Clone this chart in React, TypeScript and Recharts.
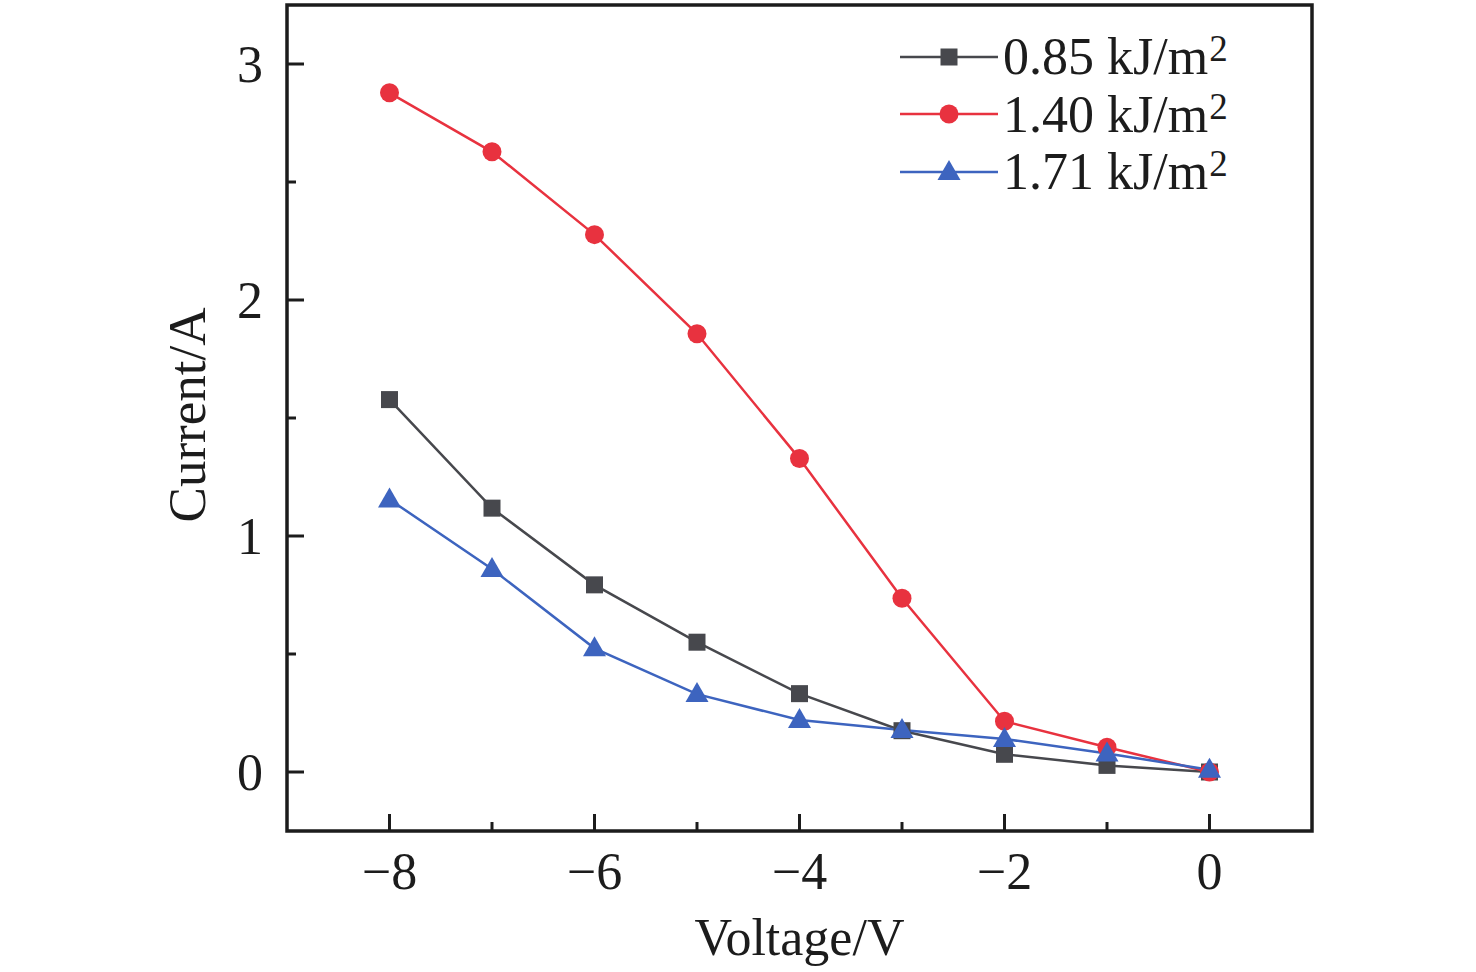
import { LineChart, Line, XAxis, YAxis, ReferenceArea, Legend } from "recharts";

const voltage    = [-8, -7, -6, -5, -4, -3, -2, -1, 0];
const current085 = [1.578, 1.118, 0.793, 0.55, 0.332, 0.175, 0.075, 0.028, 0];
const current140 = [2.878, 2.628, 2.277, 1.857, 1.328, 0.736, 0.215, 0.105, 0];
const current171 = [1.155, 0.86, 0.524, 0.33, 0.22, 0.178, 0.14, 0.078, 0.01];

const xTicks      = [-8, -7, -6, -5, -4, -3, -2, -1, 0];
const xLabelTicks = [-8, -6, -4, -2, 0];
const yTicks      = [0, 0.5, 1, 1.5, 2, 2.5, 3];
const yLabelTicks = [0, 1, 2, 3];

const series = [
  { key: "s085", label: "0.85 kJ/m", color: "#47484d", marker: "square" },
  { key: "s140", label: "1.40 kJ/m", color: "#e8323f", marker: "circle" },
  { key: "s171", label: "1.71 kJ/m", color: "#3d64bf", marker: "triangle" },
];

const data = voltage.map((v, i) => ({
  v,
  s085: current085[i],
  s140: current140[i],
  s171: current171[i],
}));

const FONT = "'Liberation Serif', 'Times New Roman', serif";
const INK = "#1c1c1c";

function Marker({ kind, cx, cy, color }: { kind: string; cx: number; cy: number; color: string }) {
  if (kind === "square") {
    return <rect x={cx - 8.5} y={cy - 8.5} width={17} height={17} fill={color} />;
  }
  if (kind === "circle") {
    return <circle cx={cx} cy={cy} r={9.5} fill={color} />;
  }
  return (
    <polygon
      points={`${cx},${cy - 12} ${cx - 11.5},${cy + 8} ${cx + 11.5},${cy + 8}`}
      fill={color}
    />
  );
}

function fmtTick(v: number) {
  return v < 0 ? `\u2212${Math.abs(v)}` : `${v}`;
}

// eslint-disable-next-line @typescript-eslint/no-explicit-any
function XTick({ x, y, payload }: any) {
  const major = xLabelTicks.includes(payload.value);
  return (
    <g>
      <line x1={x} y1={y} x2={x} y2={y - (major ? 17 : 9)} stroke={INK} strokeWidth={3} />
      {major && (
        <text x={x} y={y + 58} textAnchor="middle" fontFamily={FONT} fontSize={52} fill={INK}>
          {fmtTick(payload.value)}
        </text>
      )}
    </g>
  );
}

// eslint-disable-next-line @typescript-eslint/no-explicit-any
function YTick({ x, y, payload }: any) {
  const major = yLabelTicks.includes(payload.value);
  return (
    <g>
      <line x1={x} y1={y} x2={x + (major ? 17 : 9)} y2={y} stroke={INK} strokeWidth={3} />
      {major && (
        <text x={x - 24} y={y + 18} textAnchor="end" fontFamily={FONT} fontSize={52} fill={INK}>
          {fmtTick(payload.value)}
        </text>
      )}
    </g>
  );
}

function LegendBox() {
  return (
    <div style={{ fontFamily: FONT, fontSize: 52, color: INK }}>
      {series.map((s) => (
        <div key={s.key} style={{ display: "flex", alignItems: "center", height: 57.5, lineHeight: "57px" }}>
          <svg width={100} height={30} style={{ marginRight: 3 }}>
            <line x1={0} y1={15} x2={98} y2={15} stroke={s.color} strokeWidth={2.5} />
            <Marker kind={s.marker} cx={49} cy={15} color={s.color} />
          </svg>
          <span style={{ whiteSpace: "nowrap" }}>
            {s.label}
            <span
              style={{
                display: "inline-block",
                fontSize: 37,
                lineHeight: "37px",
                verticalAlign: "baseline",
                transform: "translateY(-13px)",
                marginLeft: 1,
              }}
            >
              2
            </span>
          </span>
        </div>
      ))}
    </div>
  );
}

export default function App() {
  return (
    <div style={{ width: 1476, height: 972, background: "#fff" }}>
      <style>{"body{margin:0}"}</style>
      <LineChart width={1476} height={972} data={data} margin={{ top: 5, right: 164, left: 0, bottom: 0 }}>
        <XAxis
          type="number"
          dataKey="v"
          domain={[-9, 1]}
          ticks={xTicks}
          interval={0}
          tick={<XTick />}
          tickLine={false}
          tickSize={0}
          tickMargin={0}
          axisLine={false}
          height={141}
          label={{
            value: "Voltage/V",
            position: "insideBottom",
            offset: 17,
            fontFamily: FONT,
            fontSize: 52,
            fill: INK,
          }}
        />
        <YAxis
          type="number"
          domain={[-0.25, 3.25]}
          ticks={yTicks}
          interval={0}
          tick={<YTick />}
          tickLine={false}
          tickSize={0}
          tickMargin={0}
          axisLine={false}
          width={287}
          label={{
            // eslint-disable-next-line @typescript-eslint/no-explicit-any
            content: ({ viewBox }: any) => {
              const x = viewBox.x + 205;
              const y = viewBox.y + viewBox.height / 2 - 3;
              return (
                <text
                  x={x}
                  y={y}
                  transform={`rotate(-90, ${x}, ${y})`}
                  textAnchor="middle"
                  fontFamily={FONT}
                  fontSize={53}
                  fill={INK}
                >
                  Current/A
                </text>
              );
            },
          }}
        />
        {series.map((s) => (
          <Line
            key={s.key}
            type="linear"
            dataKey={s.key}
            stroke={s.color}
            strokeWidth={2.5}
            isAnimationActive={false}
            // eslint-disable-next-line @typescript-eslint/no-explicit-any
            dot={(p: any) => <Marker key={`${s.key}-${p.index}`} kind={s.marker} cx={p.cx} cy={p.cy} color={s.color} />}
            activeDot={false}
          />
        ))}
        <ReferenceArea
          x1={-9}
          x2={1}
          y1={-0.25}
          y2={3.25}
          fill="none"
          fillOpacity={0}
          stroke={INK}
          strokeWidth={3.5}
        />
        <Legend
          layout="vertical"
          align="center"
          verticalAlign="middle"
          content={<LegendBox />}
          wrapperStyle={{ left: 900, top: 28, width: "auto", height: "auto" }}
        />
      </LineChart>
    </div>
  );
}
